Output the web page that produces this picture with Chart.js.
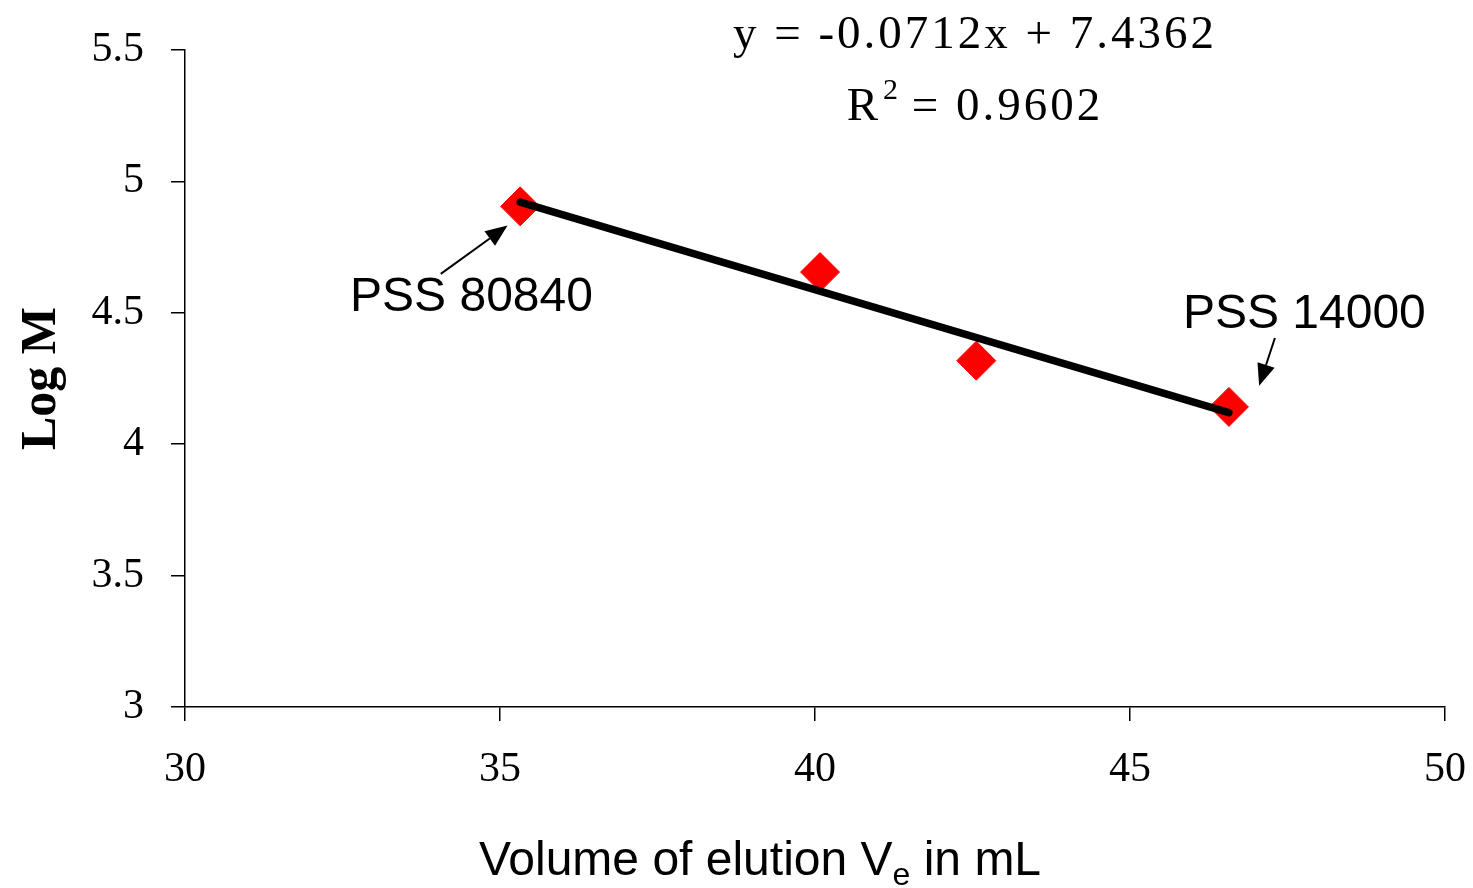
<!DOCTYPE html>
<html>
<head>
<meta charset="utf-8">
<script src="https://cdn.jsdelivr.net/npm/chart.js@4.4.0/dist/chart.umd.min.js"></script>
<style>
  html, body { margin: 0; padding: 0; background: #fff; }
  #wrap { width: 1473px; height: 888px; }
</style>
</head>
<body>
<div id="wrap"><canvas id="myChart" width="1473" height="888"></canvas></div>
<script>
// measured points (elution volume in mL, log M)
const volumes = [35.32, 40.08, 42.56, 46.57];
const logM = [4.905, 4.655, 4.318, 4.142];

// linear fit drawn between the first and last standards
const fitX = [35.32, 46.57];
const fitY = [4.921, 4.120];

const xTicks = [30, 35, 40, 45, 50];
const yTicks = [3, 3.5, 4, 4.5, 5, 5.5];

const equationText = 'y = -0.0712x + 7.4362';
const r2Text = '0.9602';

const serif = '"Liberation Serif", "Times New Roman", serif';
const sans = '"Liberation Sans", Arial, sans-serif';

// labels and arrows, given in data units
const labels = [
    { text: 'PSS 80840', x: 32.62, y: 4.556 },
    { text: 'PSS 14000', x: 45.84, y: 4.492 }
];
const arrows = [
    { from: [34.06, 4.648], to: [35.12, 4.832] },
    { from: [47.30, 4.404], to: [47.05, 4.222] }
];

const annotations = {
    id: 'annotations',
    afterDraw(chart) {
        const ctx = chart.ctx;
        const xs = chart.scales.x, ys = chart.scales.y;
        ctx.save();
        ctx.fillStyle = '#000';
        ctx.strokeStyle = '#000';

        // equation
        ctx.font = '47px ' + serif;
        ctx.textAlign = 'center';
        ctx.textBaseline = 'alphabetic';
        ctx.letterSpacing = '3px';
        const cx = xs.getPixelForValue(42.54);
        ctx.fillText(equationText, cx, ys.getPixelForValue(5.508));
        const rest = ' = ' + r2Text;
        const wR = ctx.measureText('R').width;
        const wRest = ctx.measureText(rest).width;
        const total = wR + 16 + wRest;
        const by = ys.getPixelForValue(5.234);
        ctx.textAlign = 'left';
        let px = cx - total / 2;
        ctx.fillText('R', px, by);
        ctx.font = '30px ' + serif;
        ctx.fillText('2', px + wR + 2, by - 21);
        ctx.font = '47px ' + serif;
        ctx.fillText(rest, px + wR + 16, by);
        ctx.letterSpacing = '0px';

        // point labels
        ctx.font = '48px ' + sans;
        ctx.textBaseline = 'middle';
        labels.forEach(l => {
            ctx.fillText(l.text, xs.getPixelForValue(l.x), ys.getPixelForValue(l.y));
        });

        // arrows
        arrows.forEach(a => {
            const x1 = xs.getPixelForValue(a.from[0]), y1 = ys.getPixelForValue(a.from[1]);
            const x2 = xs.getPixelForValue(a.to[0]), y2 = ys.getPixelForValue(a.to[1]);
            const ang = Math.atan2(y2 - y1, x2 - x1);
            const len = 22, half = 9;
            const bx = x2 - len * Math.cos(ang), byy = y2 - len * Math.sin(ang);
            ctx.lineWidth = 2;
            ctx.beginPath();
            ctx.moveTo(x1, y1);
            ctx.lineTo(bx, byy);
            ctx.stroke();
            ctx.beginPath();
            ctx.moveTo(x2, y2);
            ctx.lineTo(bx + half * Math.sin(ang), byy - half * Math.cos(ang));
            ctx.lineTo(bx - half * Math.sin(ang), byy + half * Math.cos(ang));
            ctx.closePath();
            ctx.fill();
        });

        // x axis title with subscript
        ctx.textBaseline = 'alphabetic';
        ctx.font = '48px ' + sans;
        const p1 = 'Volume of elution V', p3 = ' in mL';
        const w1 = ctx.measureText(p1).width, w3 = ctx.measureText(p3).width;
        ctx.font = '32px ' + sans;
        const w2 = ctx.measureText('e').width;
        const tw = w1 + w2 + w3;
        const tx = 760 - tw / 2, ty = 875;
        ctx.font = '48px ' + sans;
        ctx.fillText(p1, tx, ty);
        ctx.font = '32px ' + sans;
        ctx.fillText('e', tx + w1, ty + 10);
        ctx.font = '48px ' + sans;
        ctx.fillText(p3, tx + w1 + w2, ty);
        ctx.restore();
    }
};

const ctx = document.getElementById('myChart').getContext('2d');

const data = {
    datasets: [
        {
            label: 'Fit',
            type: 'line',
            data: fitX.map((x, i) => ({ x: x, y: fitY[i] })),
            borderColor: '#000',
            borderWidth: 7.5,
            borderCapStyle: 'round',
            pointRadius: 0,
            order: 1
        },
        {
            label: 'Standards',
            type: 'scatter',
            data: volumes.map((v, i) => ({ x: v, y: logM[i] })),
            backgroundColor: '#ff0000',
            borderColor: '#ff0000',
            pointStyle: 'rectRot',
            pointRadius: 19.5,
            pointHoverRadius: 19.5,
            order: 2
        }
    ]
};

const config = {
    type: 'scatter',
    data: data,
    options: {
        responsive: false,
        animation: false,
        layout: { padding: { top: 50, right: 28, left: 0, bottom: 0 } },
        plugins: {
            legend: { display: false },
            tooltip: { enabled: false }
        },
        scales: {
            x: {
                type: 'linear',
                min: 30,
                max: 50,
                afterBuildTicks: s => { s.ticks = xTicks.map(v => ({ value: v })); },
                afterFit: s => { s.height = 181; s.paddingLeft = 0; s.paddingRight = 0; },
                ticks: {
                    color: '#000',
                    font: { family: serif, size: 42 },
                    padding: 24,
                    maxRotation: 0,
                    callback: v => String(v)
                },
                grid: { drawOnChartArea: false, drawTicks: true, tickLength: 14, color: '#000', lineWidth: 1.5 },
                border: { display: true, color: '#000', width: 1.5 }
            },
            y: {
                type: 'linear',
                min: 3,
                max: 5.5,
                afterBuildTicks: s => { s.ticks = yTicks.map(v => ({ value: v })); },
                afterFit: s => { s.width = 185; s.paddingTop = 0; s.paddingBottom = 0; },
                ticks: {
                    color: '#000',
                    font: { family: serif, size: 42 },
                    padding: 27,
                    callback: v => String(v)
                },
                title: {
                    display: true,
                    text: 'Log M',
                    color: '#000',
                    font: { family: serif, size: 50, weight: 'bold' },
                    padding: { top: 12, bottom: 0 }
                },
                grid: { drawOnChartArea: false, drawTicks: true, tickLength: 14, color: '#000', lineWidth: 1.5 },
                border: { display: true, color: '#000', width: 1.5 }
            }
        }
    },
    plugins: [annotations]
};

new Chart(ctx, config);
</script>
</body>
</html>
